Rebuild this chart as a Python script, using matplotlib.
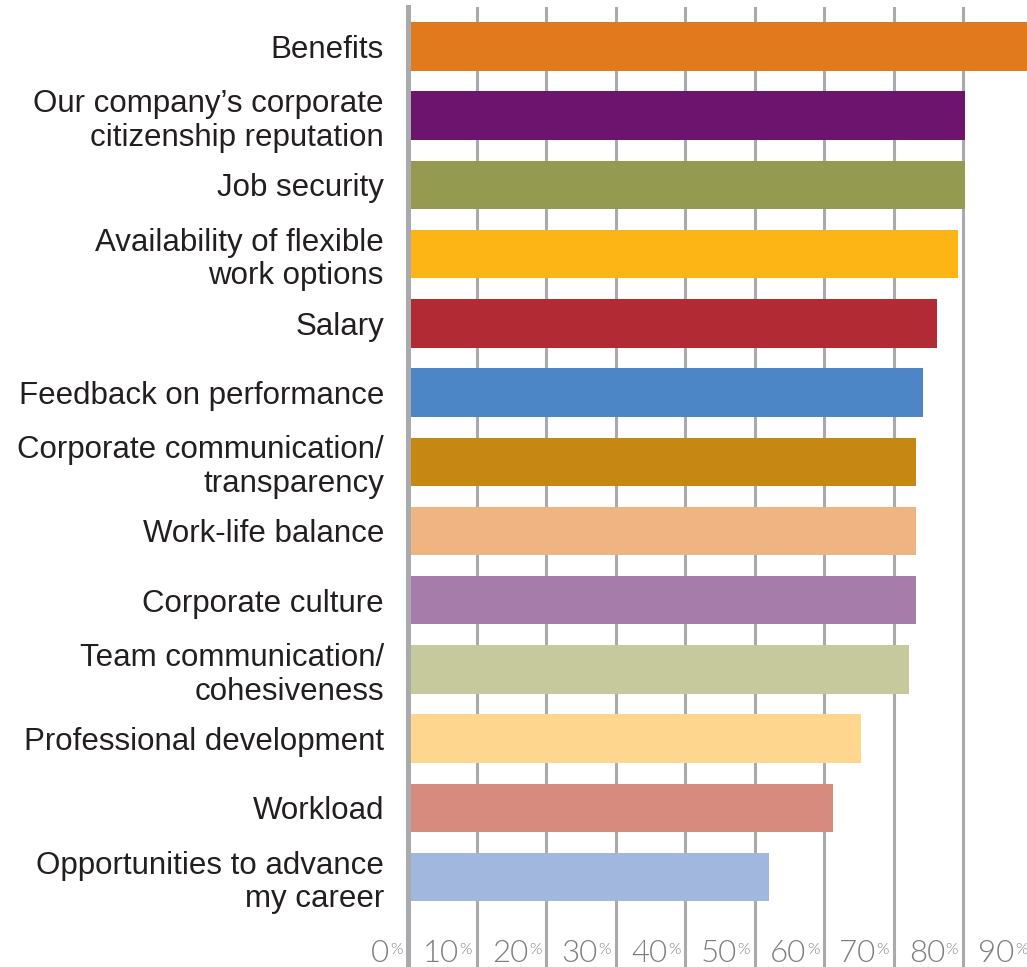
"""
Horizontal bar chart: share of employees rating each factor as important.
"""

import matplotlib.pyplot as plt
import matplotlib.transforms as mtransforms
import numpy as np

categories = [
    "Benefits",
    "Our company\u2019s corporate\ncitizenship reputation",
    "Job security",
    "Availability of flexible\nwork options",
    "Salary",
    "Feedback on performance",
    "Corporate communication/\ntransparency",
    "Work-life balance",
    "Corporate culture",
    "Team communication/\ncohesiveness",
    "Professional development",
    "Workload",
    "Opportunities to advance\nmy career",
]
values = [91, 80.3, 80.3, 79.3, 76.2, 74.2, 73.2, 73.2, 73.2, 72.2, 65.3, 61.2, 52.0]
colors = [
    "#E07A1D", "#6C146E", "#949A4F", "#FDB515", "#B22A33", "#4C86C6", "#C78813",
    "#EFB482", "#A67CAB", "#C6C99C", "#FFD68D", "#D78A7E", "#A2B7DE",
]
tick_values = [0, 10, 20, 30, 40, 50, 60, 70, 80, 90]

GRID = "#a8aaad"
TICK_TXT = "#7d7d7d"

fig = plt.figure(figsize=(10.27, 9.67), dpi=100)
ax = fig.add_axes([407.5 / 1027, 0, 1 - 407.5 / 1027, 1 - 7 / 967])

y = np.arange(len(categories))
ax.barh(y, values, height=0.70, color=colors, zorder=3)

ax.set_xlim(0, 89.2)
ax.set_ylim(13.30, -0.57)

for v in tick_values[1:]:
    ax.axvline(v, color=GRID, lw=2.2, zorder=1)
ax.axvline(0, color=GRID, lw=3.6, zorder=4, clip_on=False)

for s in ax.spines.values():
    s.set_visible(False)
ax.set_xticks([])
ax.set_yticks(y)
ax.set_yticklabels(categories, fontsize=22.5, family="Liberation Sans",
                   color="#231f20", linespacing=1.16)
ax.tick_params(axis="y", length=0, pad=17)

# percent tick labels, number with a small raised % sign, left of each gridline
for v in tick_values:
    off_pct = mtransforms.offset_copy(ax.transData, fig=fig, x=-5, y=0, units="dots")
    ax.text(v, 12.95, "%", transform=off_pct, ha="right", va="top",
            fontsize=11.5, color=TICK_TXT, family="Lato", fontweight=300,
            clip_on=False)
    off_num = mtransforms.offset_copy(ax.transData, fig=fig, x=-18, y=0, units="dots")
    ax.text(v, 13.23, str(v), transform=off_num, ha="right", va="baseline",
            fontsize=22.5, color=TICK_TXT, family="Lato", fontweight=300,
            clip_on=False)

fig.savefig("out.png", dpi=100)
